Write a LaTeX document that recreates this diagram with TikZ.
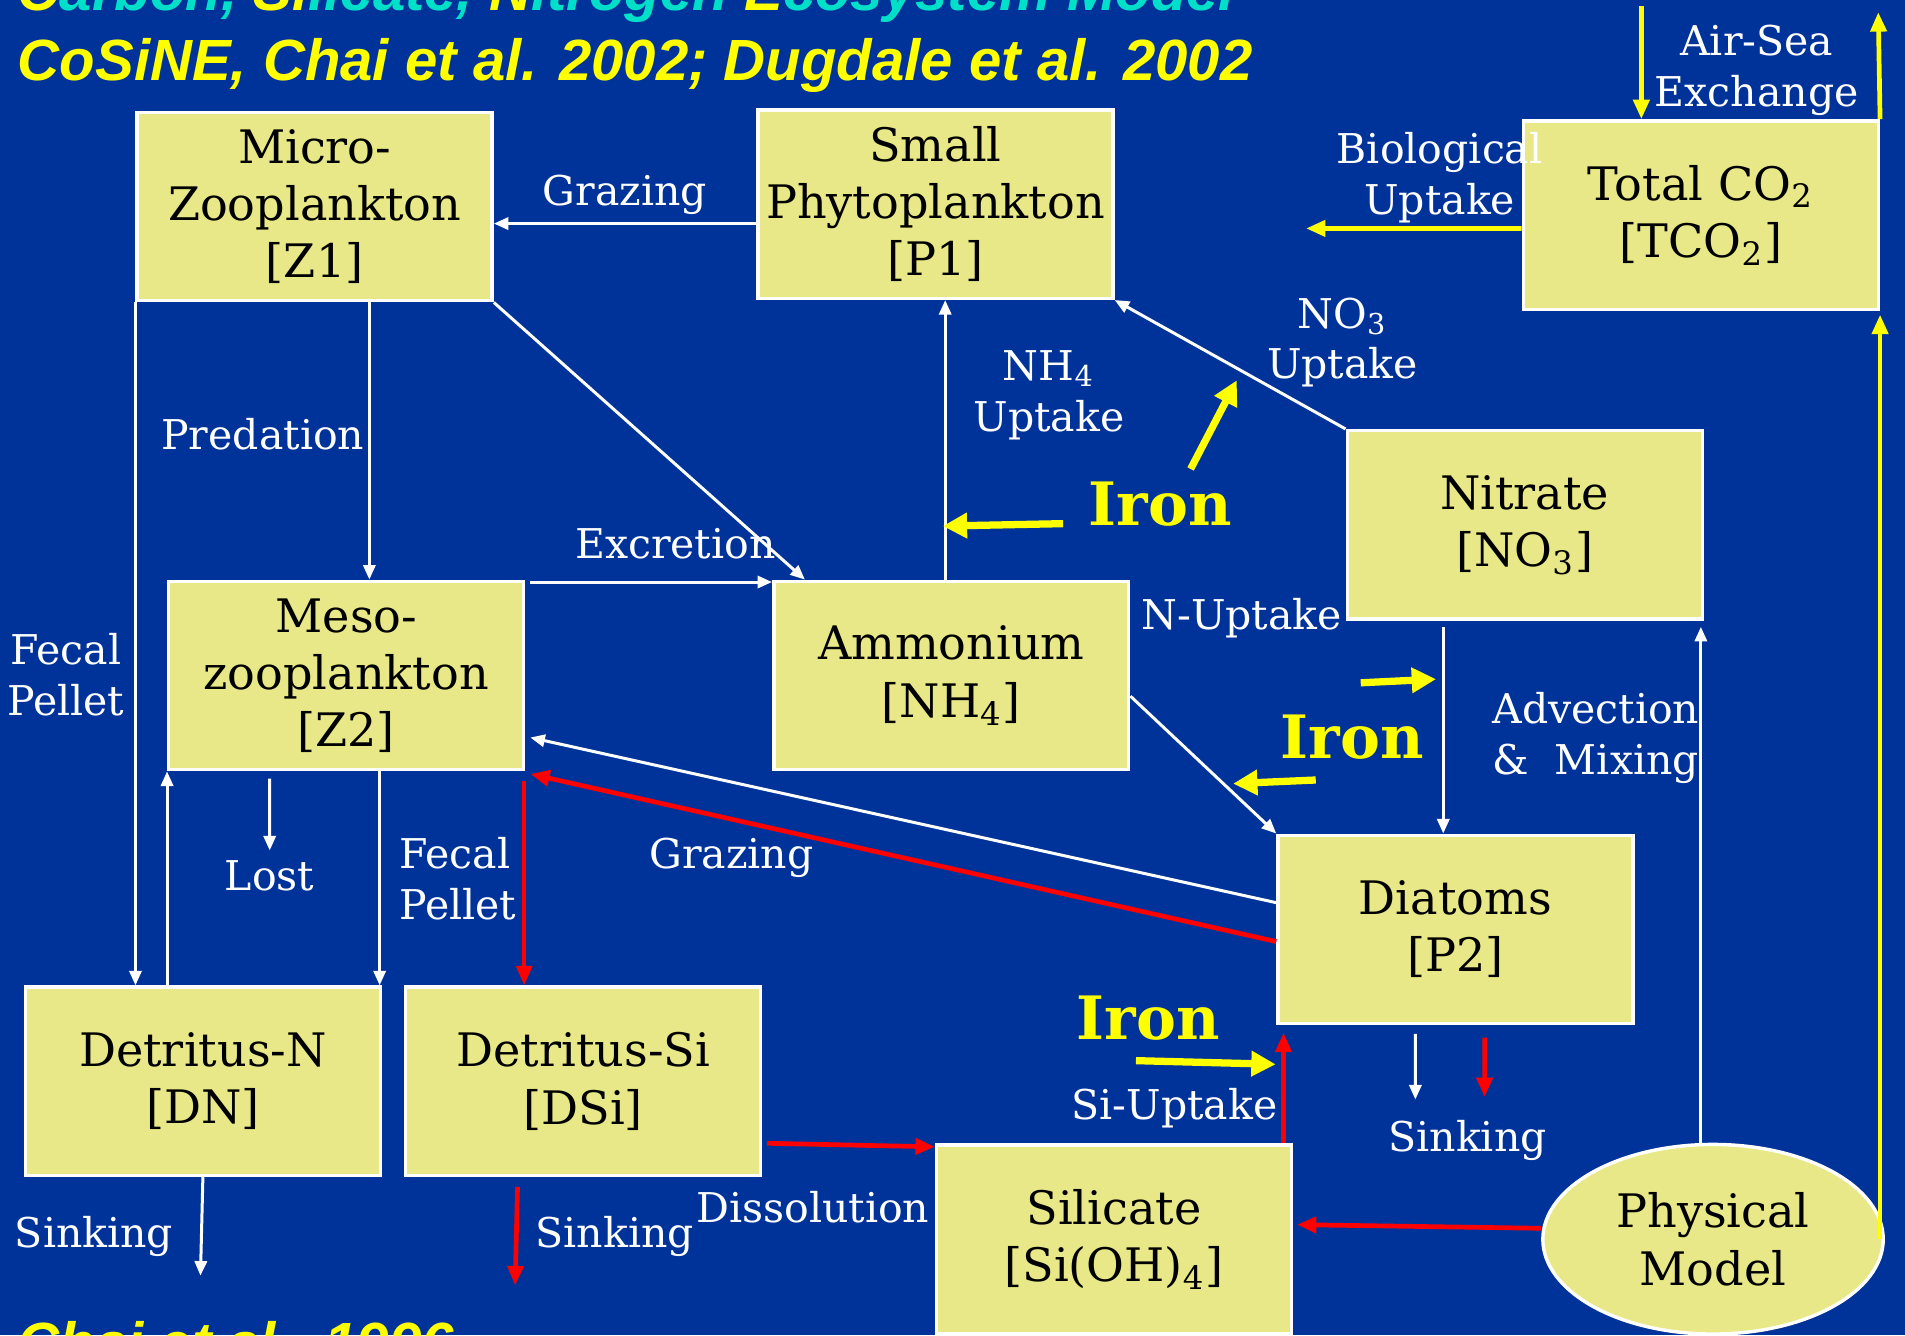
\documentclass[tikz,border=0pt]{standalone}
\usepackage{fontspec}
\setmainfont{DejaVu Serif}
\setsansfont{Liberation Sans}
\usepackage{tikz}
\usetikzlibrary{arrows.meta, positioning, calc, shapes.geometric}
\definecolor{seablue}{RGB}{0, 51, 153}
\definecolor{boxfill}{RGB}{232, 232, 136}
\definecolor{ironyellow}{RGB}{255, 255, 0}
\definecolor{titlecyan}{RGB}{0, 224, 200}
\definecolor{fluxred}{RGB}{255, 0, 0}

\begin{document}
\begin{tikzpicture}[
    x=0.01cm, y=-0.01cm,
    pool/.style={draw=white, line width=0.8pt, fill=boxfill, minimum width=2.92cm, minimum height=1.55cm, inner sep=0pt, align=center, font=\fontsize{10.8}{13.4}\selectfont, execute at begin node={\rule{0pt}{11pt}}},
    flux/.style={-{Triangle[length=1.2mm, width=1mm]}, white, line width=0.7pt},
    siflux/.style={-{Triangle[length=1.6mm, width=1.3mm]}, fluxred, line width=1.1pt},
    carbon/.style={-{Triangle[length=1.6mm, width=1.3mm]}, ironyellow, line width=1.1pt},
    ironflux/.style={-{Triangle[length=2mm, width=2mm]}, ironyellow, line width=1.7pt},
    lbl/.style={text=white, font=\fontsize{9.6}{11.9}\selectfont, align=center, inner sep=0pt},
    iron/.style={text=ironyellow, font=\bfseries\fontsize{14}{17}\selectfont, inner sep=0pt},
    ref/.style={font=\sffamily\bfseries\itshape\fontsize{13.6}{16}\selectfont, inner sep=0pt, anchor=base west}
]
    % Background
    \useasboundingbox (0,0) rectangle (1568,1099);
    \fill[seablue] (0,0) rectangle (1568,1099);
    \clip (0,0) rectangle (1568,1099);

    % Titles
    \node[ref, text=titlecyan] (title) at (14,9) {\textcolor{ironyellow}{C}arbon, \textcolor{ironyellow}{Si}licate, \textcolor{ironyellow}{N}itrogen \textcolor{ironyellow}{E}cosystem Model};
    \node[ref, text=ironyellow] (cosine) at (14,66) {CoSiNE, Chai et al. 2002; Dugdale et al. 2002};
    \node[ref, text=ironyellow] (chai) at (14,1122) {Chai et al., 1996};

    % Nodes - top row
    \node[pool] (z1) at (259,170) {Micro-\\Zooplankton\\{[Z1]}};
    \node[pool] (p1) at (770,168) {Small\\Phytoplankton\\{[P1]}};
    \node[pool] (tco) at (1400,177) {Total CO\textsubscript{2}\\{[TCO\textsubscript{2}]}};

    % Nodes - middle rows
    \node[pool] (no3) at (1255,432) {Nitrate\\{[NO\textsubscript{3}]}};
    \node[pool] (z2) at (285,556) {Meso-\\zooplankton\\{[Z2]}};
    \node[pool] (nh4) at (783,556) {Ammonium\\{[NH\textsubscript{4}]}};
    \node[pool] (p2) at (1198,765) {Diatoms\\{[P2]}};

    % Nodes - bottom row
    \node[pool] (dn) at (167,890) {Detritus-N\\{[DN]}};
    \node[pool] (dsi) at (480,890) {Detritus-Si\\{[DSi]}};
    \node[pool] (si) at (917,1020) {Silicate\\{[Si(OH)\textsubscript{4}]}};
    \node[pool, ellipse, minimum width=2.8cm, minimum height=1.56cm] (phys) at (1410,1020) {Physical\\Model};

    % Free ends
    \coordinate (lostend) at (222,700);
    \coordinate (dnsink) at (165,1050);
    \coordinate (dsisink) at (424,1058);
    \coordinate (p2sinkn) at (1165,905);
    \coordinate (p2sinksi) at (1222,903);
    \coordinate (airin) at (1351,5);
    \coordinate (airout) at (1546,10);
    \coordinate (bioend) at (1075,188);

    % Arrows - nitrogen
    \draw[flux] ([yshift=-0.16cm]p1.west) -- ([yshift=-0.16cm]p1.west -| z1.east) node[lbl, midway, above=0.06cm] {Grazing};
    \draw[flux] ([xshift=0.45cm]z1.south) -- ([xshift=0.45cm]z1.south |- z2.north) node[lbl, midway, left=0.03cm, yshift=0.06cm] {Predation};
    \draw[flux] (z1.south east) -- ([xshift=0.27cm]nh4.north west);
    \draw[flux] ([xshift=0.04cm, yshift=-0.02cm]z2.north east) -- ([yshift=-0.02cm]z2.north east -| nh4.west) node[lbl, pos=0.6, above=0.18cm] {Excretion};
    \draw[flux] ([xshift=-0.05cm]nh4.north) -- ([xshift=-0.05cm]nh4.north |- p1.south) node[lbl, pos=0.66, right=0.22cm] {NH\textsubscript{4}\\Uptake};
    \draw[flux] (no3.north west) -- (p1.south east);
    \node[lbl] (no3up) at (1105,282) {NO\textsubscript{3}\\Uptake};
    \draw[flux] ([yshift=-0.17cm]nh4.east) -- (p2.north west);
    \node[lbl] (nup) at (1022,509) {N-Uptake};
    \draw[flux] ([xshift=-0.67cm, yshift=-0.05cm]no3.south) -- ([xshift=-0.67cm]no3.south |- p2.north);
    \draw[flux, shorten >=0.05cm] ([xshift=-0.1cm]phys.north) -- ([xshift=-0.1cm]phys.north |- no3.south) node[lbl, pos=0.775, left=0.0cm, align=left] {Advection\\\&~~Mixing};
    \draw[flux] ([yshift=0.22cm]p2.west) -- ([xshift=0.04cm, yshift=-0.51cm]z2.east);
    \node[lbl] (graze2) at (602,706) {Grazing};
    \draw[flux] ([xshift=-0.63cm, yshift=-0.06cm]z2.south) -- (lostend) node[lbl, below=0.07cm] {Lost};
    \draw[flux] (z1.south west) -- (z1.south west |- dn.north) node[lbl, pos=0.545, left=0.08cm] {Fecal\\Pellet};
    \draw[flux] (z2.south west |- dn.north) -- (z2.south west);
    \draw[flux] ([xshift=-0.02cm]dn.north east |- z2.south) -- ([xshift=-0.02cm]dn.north east) node[lbl, midway, right=0.15cm, align=left] {Fecal\\Pellet};
    \draw[flux] (dn.south) -- (dnsink) node[lbl, pos=0.6, left=0.22cm] {Sinking};
    \draw[flux] ([xshift=-0.33cm, yshift=-0.07cm]p2.south) -- (p2sinkn);

    % Arrows - silicate
    \draw[siflux] ([yshift=-0.1cm]p2.west) -- ([xshift=0.04cm, yshift=-0.81cm]z2.east);
    \draw[siflux, line width=0.9pt] ([xshift=-0.01cm, yshift=-0.08cm]z2.south east) -- ([xshift=-0.01cm]z2.south east |- dsi.north);
    \draw[siflux] ([xshift=-0.54cm, yshift=-0.08cm]dsi.south) -- (dsisink) node[lbl, midway, right=0.14cm] {Sinking};
    \draw[siflux] ([xshift=0.04cm, yshift=-0.51cm]dsi.east) -- ([yshift=0.76cm]si.west);
    \node[lbl] (dissol) at (669,994) {Dissolution};
    \draw[siflux, shorten >=0.06cm] ([xshift=-0.08cm]si.north east) -- ([xshift=-0.08cm]si.north east |- p2.south) node[lbl, pos=0.3, left=0.03cm] {Si-Uptake};
    \draw[siflux] ([xshift=0.24cm, yshift=-0.1cm]p2.south) -- (p2sinksi);
    \node[lbl] (p2sink) at (1208,939) {Sinking};
    \draw[siflux] ([yshift=0.09cm]phys.west) -- ([xshift=0.03cm, yshift=0.12cm]si.east);

    % Arrows - carbon
    \draw[carbon] (tco.south east |- phys.east) -- ([yshift=-0.03cm]tco.south east);
    \draw[carbon] (airin) -- (airin |- tco.north);
    \draw[carbon] (tco.north east) -- (airout);
    \node[lbl] (airsea) at (1446,58) {Air-Sea\\Exchange};
    \draw[carbon] ([yshift=-0.11cm]tco.west) -- (bioend);
    \node[lbl] (bioup) at (1185,146) {Biological\\Uptake};

    % Iron limitation
    \node[iron] (iron1) at (955,415) {Iron};
    \node[iron] (iron2) at (1113,607) {Iron};
    \node[iron] (iron3) at (945,838) {Iron};
    \coordinate (fe1s) at (875,431);
    \coordinate (fe1a) at (776,433);
    \coordinate (fe1t) at (980,386);
    \coordinate (fe1b) at (1018,313);
    \coordinate (fe2s) at (1120,562);
    \coordinate (fe2a) at (1182,559);
    \coordinate (fe2t) at (1083,642);
    \coordinate (fe2b) at (1015,645);
    \coordinate (fe3s) at (935,873);
    \coordinate (fe3a) at (1050,876);
    \draw[ironflux] (fe1s) -- (fe1a);
    \draw[ironflux] (fe1t) -- (fe1b);
    \draw[ironflux] (fe2s) -- (fe2a);
    \draw[ironflux] (fe2t) -- (fe2b);
    \draw[ironflux] (fe3s) -- (fe3a);
\end{tikzpicture}
\end{document}
